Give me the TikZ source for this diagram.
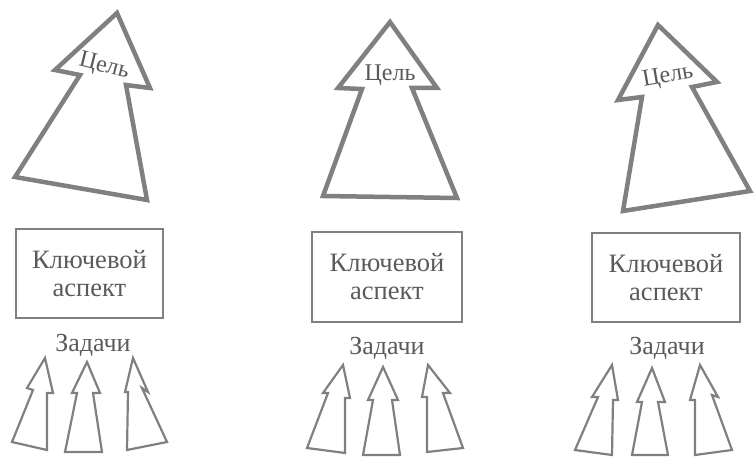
\documentclass[tikz,border=0pt]{standalone}
\usepackage{fontspec}
\setmainfont{Liberation Serif}
\definecolor{inkgray}{RGB}{128,128,128}
\definecolor{textgray}{RGB}{90,90,90}

\begin{document}
\begin{tikzpicture}
  [x=1pt, y=-1pt,
   goal/.style={draw=inkgray, line width=4.5pt, line join=miter, fill=white},
   task/.style={draw=inkgray, line width=2.2pt, line join=miter, fill=white},
   aspect/.style={draw=inkgray, line width=1.4pt, minimum width=147pt, minimum height=89pt,
                  align=center, text=textgray, font=\fontsize{26.5}{28}\selectfont},
   goaltext/.style={text=textgray, font=\fontsize{24}{26}\selectfont, inner sep=0pt},
   tasktext/.style={text=textgray, font=\fontsize{26}{28}\selectfont}]

  \useasboundingbox (0,0) rectangle (755,457);

  % Цели
  \draw[goal] (117,13) -- (150,88) -- (126,85) -- (147,200) -- (15,177) -- (80,75) -- (55,70) -- cycle;
  \draw[goal] (390,22) -- (437,88) -- (412,88) -- (457,198) -- (323,196) -- (362,89) -- (338,88) -- cycle;
  \draw[goal] (658,25) -- (717,82) -- (692,87) -- (750,191) -- (623,211) -- (642,97) -- (618,100) -- cycle;

  \node[goaltext, rotate=-14] (g1) at (104,67) {Цель};
  \node[goaltext] (g2) at (390,75) {Цель};
  \node[goaltext, rotate=10] (g3) at (668,77) {Цель};

  % Ключевые аспекты
  \node[aspect] (k1) at (89.5,273.5) {Ключевой\\аспект};
  \node[aspect, minimum width=150pt, minimum height=90pt] (k2) at (387,277) {Ключевой\\аспект};
  \node[aspect, minimum width=148pt] (k3) at (666,277.5) {Ключевой\\аспект};

  % Задачи
  \node[tasktext] (z1) at (93,345) {Задачи};
  \node[tasktext] (z2) at (387,348) {Задачи};
  \node[tasktext] (z3) at (667,348) {Задачи};

  \draw[task] (45,358) -- (53,393) -- (47,393) -- (47,450) -- (12,442) -- (33,390) -- (27,388) -- cycle;
  \draw[task] (87,362) -- (100,393) -- (93,393) -- (102,452) -- (65,452) -- (77,393) -- (72,393) -- cycle;
  \draw[task] (133,358) -- (148,392) -- (142,388) -- (167,442) -- (127,450) -- (128,392) -- (125,392) -- cycle;

  \draw[task] (343,365) -- (350,398) -- (345,398) -- (345,453) -- (307,448) -- (328,393) -- (323,393) -- cycle;
  \draw[task] (383,367) -- (398,400) -- (392,400) -- (400,455) -- (363,455) -- (373,400) -- (368,400) -- cycle;
  \draw[task] (428,365) -- (450,393) -- (443,393) -- (463,448) -- (427,452) -- (427,397) -- (422,397) -- cycle;

  \draw[task] (612,365) -- (618,400) -- (613,400) -- (612,455) -- (575,450) -- (598,397) -- (592,397) -- cycle;
  \draw[task] (652,368) -- (665,402) -- (658,402) -- (668,455) -- (632,455) -- (642,402) -- (637,402) -- cycle;
  \draw[task] (700,365) -- (718,397) -- (712,395) -- (732,450) -- (695,455) -- (695,400) -- (690,400) -- cycle;
\end{tikzpicture}
\end{document}
